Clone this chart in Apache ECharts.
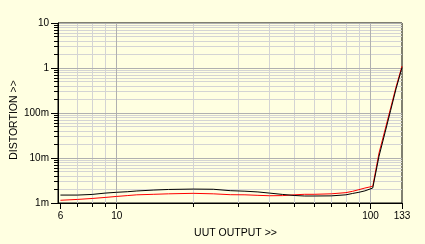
<!DOCTYPE html>
<html><head><meta charset="utf-8">
<script src="https://cdn.jsdelivr.net/npm/echarts@6/dist/echarts.min.js"></script>
<style>html,body{margin:0;padding:0;background:#FFFFE1;}#c{width:425px;height:244px;}</style>
</head><body><div id="c"></div>
<script>
// UUT output (x) values
var xValues = [6, 7, 8, 9, 10, 11, 12, 14, 16, 20, 24, 28, 32, 36, 40, 45, 50, 55, 60, 70, 80, 85, 90, 95, 102, 108, 114, 120, 126, 133];
// Distortion, black trace
var blackValues = [0.00150, 0.00150, 0.00155, 0.00166, 0.00173, 0.00178, 0.00185, 0.00194, 0.00200, 0.00204, 0.00202, 0.00188, 0.00183, 0.00176, 0.00166, 0.00155, 0.00147, 0.00143, 0.00143, 0.00144, 0.00152, 0.00163, 0.00173, 0.00186, 0.00215, 0.0110, 0.0364, 0.115, 0.344, 1.02];
// Distortion, red trace
var redValues = [0.00115, 0.00120, 0.00126, 0.00133, 0.00140, 0.00146, 0.00152, 0.00156, 0.00160, 0.00164, 0.00160, 0.00153, 0.00152, 0.00148, 0.00145, 0.00146, 0.00152, 0.00156, 0.00156, 0.00160, 0.00170, 0.00182, 0.00198, 0.00215, 0.00235, 0.0130, 0.0420, 0.130, 0.380, 1.10];
// tick labels
var xMajorTicks = [6, 10, 100, 133];
var xMinorTicks = [7, 8, 9, 20, 30, 40, 50, 60, 70, 80, 90];
var xMajorGrid = [10, 100];
var yMajorTicks = [0.001, 0.01, 0.1, 1, 10];
var yMajorLabels = ['1m', '10m', '100m', '1', '10'];
var yMinorTicks = [];
[0.001, 0.01, 0.1, 1].forEach(function (d) { for (var k = 2; k <= 9; k++) yMinorTicks.push(+(d * k).toPrecision(3)); });

var FONT = 'Liberation Sans';
var xMin = 5.87, xMax = 133, yMin = 0.001, yMax = 10;

function pairs(xs, ys) { return xs.map(function (x, i) { return [x, ys[i]]; }); }

var chart = echarts.init(document.getElementById('c'), null, { renderer: 'canvas' });
chart.setOption({
  backgroundColor: '#FFFFE1',
  animation: false,
  grid: { left: 58, right: 23, top: 23, bottom: 41, show: true, backgroundColor: '#FFFFE1', borderColor: '#000', borderWidth: 1, containLabel: false, outerBoundsMode: 'none' },
  xAxis: [
    { type: 'log', gridIndex: 0, position: 'bottom', offset: 0, min: xMin, max: xMax, logBase: 10, z: 5,
      axisLine: { show: true, lineStyle: { color: '#000', width: 1 } },
      axisTick: { show: true, length: 6, customValues: xMajorTicks, lineStyle: { color: '#000' } },
      axisLabel: { show: true, customValues: xMajorTicks, margin: 8, fontFamily: FONT, fontSize: 10, color: '#000', formatter: function (v) { return String(Math.round(v)); } },
      splitLine: { show: false },
      name: 'UUT OUTPUT >>', nameLocation: 'middle', nameGap: 25,
      nameTextStyle: { fontFamily: FONT, fontSize: 10.5, color: '#000', padding: [0, 0, 0, 11] } },
    { type: 'log', gridIndex: 0, position: 'bottom', offset: 0, min: xMin, max: xMax, logBase: 10, z: 1,
      axisLine: { show: false },
      axisTick: { show: true, length: 4, customValues: xMinorTicks, lineStyle: { color: '#000' } },
      axisLabel: { show: false },
      splitLine: { show: true, lineStyle: { color: '#D4D4D4', width: 1 } } },
    { type: 'log', gridIndex: 0, position: 'bottom', offset: 0, min: xMin, max: xMax, logBase: 10, z: 2,
      axisLine: { show: false },
      axisTick: { show: false, customValues: xMajorGrid },
      axisLabel: { show: false },
      splitLine: { show: true, lineStyle: { color: '#B0B0B0', width: 1 } } }
  ],
  yAxis: [
    { type: 'log', gridIndex: 0, position: 'left', offset: 0, min: yMin, max: yMax, logBase: 10, z: 5,
      axisLine: { show: true, lineStyle: { color: '#000', width: 1 } },
      axisTick: { show: true, length: 7, customValues: yMajorTicks, lineStyle: { color: '#000' } },
      axisLabel: { show: true, customValues: yMajorTicks, margin: 9, fontFamily: FONT, fontSize: 10, color: '#000',
        formatter: function (v) { var i = yMajorTicks.findIndex(function (t) { return Math.abs(Math.log10(t) - Math.log10(v)) < 1e-6; }); return i >= 0 ? yMajorLabels[i] : ''; } },
      splitLine: { show: true, lineStyle: { color: '#B0B0B0', width: 1 } },
      name: 'DISTORTION >>', nameLocation: 'middle', nameGap: 38, nameRotate: 90, nameMoveOverlap: false,
      nameTextStyle: { fontFamily: FONT, fontSize: 10.5, color: '#000', padding: [0, 14, 0, 0] } },
    { type: 'log', gridIndex: 0, position: 'left', offset: 0, min: yMin, max: yMax, logBase: 10, z: 1,
      axisLine: { show: false },
      axisTick: { show: true, length: 4, customValues: yMinorTicks, lineStyle: { color: '#000' } },
      axisLabel: { show: false },
      splitLine: { show: true, lineStyle: { color: '#D4D4D4', width: 1 } } }
  ],
  series: [
    { type: 'line', name: 'red', xAxisIndex: 0, yAxisIndex: 0, data: pairs(xValues, redValues), showSymbol: false, symbol: 'none',
      lineStyle: { color: '#FF0000', width: 1 }, z: 10 },
    { type: 'line', name: 'black', xAxisIndex: 0, yAxisIndex: 0, data: pairs(xValues, blackValues), showSymbol: false, symbol: 'none',
      lineStyle: { color: '#000000', width: 1 }, z: 11 }
  ]
});
</script></body></html>
